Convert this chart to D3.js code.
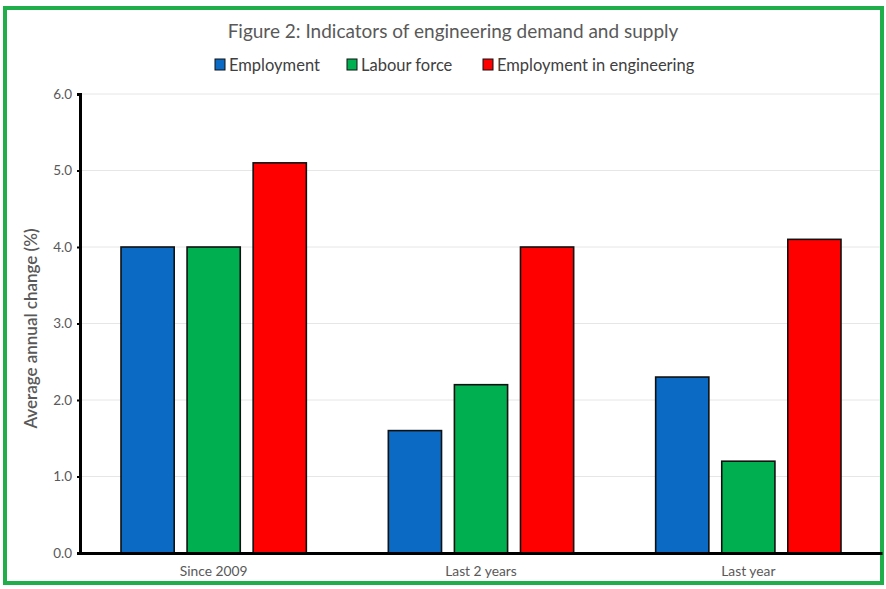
<!DOCTYPE html>
<html>
<head>
<meta charset="utf-8">
<script src="https://cdn.jsdelivr.net/npm/d3@7"></script>
<style>
  html, body { margin: 0; padding: 0; background: #fff; }
  svg { display: block; font-family: Lato, "Open Sans", sans-serif; }
</style>
</head>
<body>
<div id="chart"></div>
<script>
// chart data
const categories = ['Since 2009', 'Last 2 years', 'Last year'];
const seriesNames = ['Employment', 'Labour force', 'Employment in engineering'];
const employment = [4.0, 1.6, 2.3];
const labourForce = [4.0, 2.2, 1.2];
const engineering = [5.1, 4.0, 4.1];
const yTicks = [0, 1, 2, 3, 4, 5, 6];

const colours = ['#0a6ac4', '#00b050', '#ff0000'];
const seriesValues = [employment, labourForce, engineering];

const width = 886, height = 589;
const margin = { left: 80, right: 4, top: 94, bottom: 36 };

const svg = d3.select('#chart').append('svg')
  .attr('width', width)
  .attr('height', height);

// green frame
svg.append('rect')
  .attr('x', 5).attr('y', 8)
  .attr('width', 877).attr('height', 575)
  .attr('fill', '#fff')
  .attr('stroke', '#1fae4a')
  .attr('stroke-width', 4);

const x0 = d3.scaleBand()
  .domain(categories)
  .range([margin.left, width - margin.right]);

const x1 = d3.scaleBand()
  .domain(seriesNames)
  .range([41, x0.bandwidth() - 41])
  .paddingInner(0.195);

const y = d3.scaleLinear()
  .domain([0, 6])
  .range([height - margin.bottom, margin.top]);

// gridlines
svg.append('g')
  .selectAll('line')
  .data(yTicks.slice(1))
  .enter().append('line')
  .attr('x1', margin.left)
  .attr('x2', width - margin.right - 2)
  .attr('y1', d => y(d))
  .attr('y2', d => y(d))
  .attr('stroke', '#e6e6e6')
  .attr('stroke-width', 1);

// bars
const rows = categories.map((c, i) => ({ cat: c, vals: seriesNames.map((s, j) => ({ s, v: seriesValues[j][i], c: colours[j] })) }));

svg.append('g')
  .selectAll('g')
  .data(rows)
  .enter().append('g')
  .attr('transform', d => `translate(${x0(d.cat)},0)`)
  .selectAll('rect')
  .data(d => d.vals)
  .enter().append('rect')
  .attr('x', d => x1(d.s))
  .attr('width', x1.bandwidth())
  .attr('y', d => y(d.v))
  .attr('height', d => y(0) - y(d.v))
  .attr('fill', d => d.c)
  .attr('stroke', '#111')
  .attr('stroke-width', 1.6);

// y axis
const yAxis = svg.append('g')
  .attr('transform', `translate(${margin.left},0)`)
  .call(d3.axisLeft(y).tickValues(yTicks).tickFormat(d3.format('.1f')).tickSize(3).tickPadding(5));
yAxis.select('.domain').attr('stroke', '#000').attr('stroke-width', 3);
yAxis.selectAll('.tick line').attr('stroke', '#000').attr('stroke-width', 2);
yAxis.selectAll('.tick text').attr('fill', '#595959').style('font-size', '13.5px').style('font-family', 'Lato, sans-serif');

// x axis
const xAxis = svg.append('g')
  .attr('transform', `translate(0,${y(0)})`)
  .call(d3.axisBottom(x0).tickSize(0).tickPadding(13));
xAxis.select('.domain').attr('stroke', '#000').attr('stroke-width', 3);
xAxis.selectAll('.tick text').attr('fill', '#595959').style('font-size', '13.8px').style('font-family', 'Lato, sans-serif');

// y axis title
svg.append('text')
  .attr('transform', `translate(37,${(y(0) + y(6)) / 2 + 5}) rotate(-90)`)
  .attr('text-anchor', 'middle')
  .attr('fill', '#595959')
  .style('font-size', '17px')
  .style('font-weight', 600)
  .text('Average annual change (%)');

// title
svg.append('text')
  .attr('x', 453)
  .attr('y', 38)
  .attr('text-anchor', 'middle')
  .attr('fill', '#595959')
  .style('font-size', '19px')
  .text('Figure 2: Indicators of engineering demand and supply');

// legend
const legendX = [215, 347, 483];
const legend = svg.append('g')
  .selectAll('g')
  .data(seriesNames)
  .enter().append('g')
  .attr('transform', (d, i) => `translate(${legendX[i]},59)`);
legend.append('rect')
  .attr('width', 10).attr('height', 11)
  .attr('fill', (d, i) => colours[i])
  .attr('stroke', '#111').attr('stroke-width', 1);
legend.append('text')
  .attr('x', 14).attr('y', 11.5)
  .attr('fill', '#404040')
  .style('font-size', '16.5px')
  .text(d => d);
</script>
</body>
</html>
